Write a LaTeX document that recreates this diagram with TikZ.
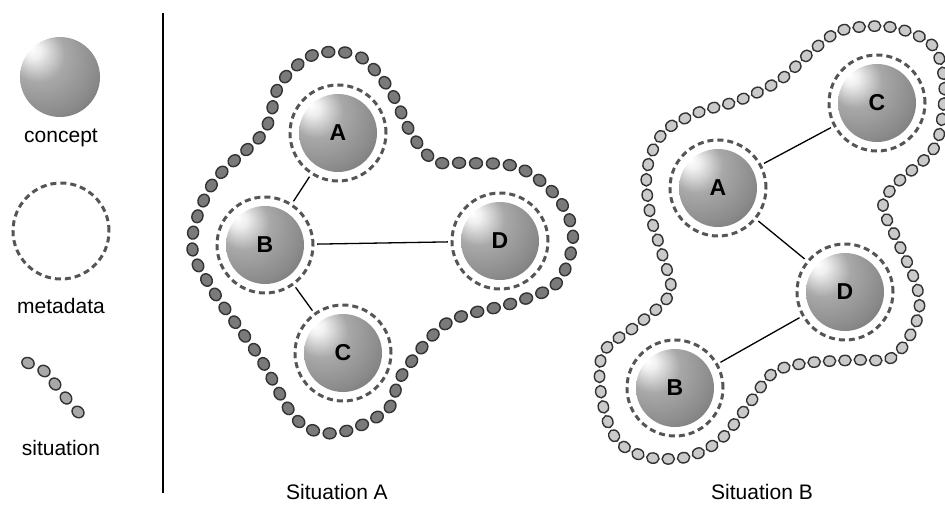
\documentclass[tikz,border=0pt]{standalone}
\usepackage{fontspec}
\setmainfont{Liberation Sans}
\usetikzlibrary{decorations.markings}

\definecolor{dashgray}{HTML}{555555}
\definecolor{dotdark}{HTML}{7A7A7A}
\definecolor{dotlight}{HTML}{CACACA}
\definecolor{dotmid}{HTML}{A8A8A8}
\definecolor{dotedge}{HTML}{333333}

% glossy sphere, lit from the upper left
\pgfdeclareradialshading{conceptball}{\pgfpoint{-18bp}{18bp}}{%
  color(0bp)=(white);
  color(5bp)=(white!94!black);
  color(17bp)=(white!66!black);
  color(34bp)=(white!54!black);
  color(50bp)=(white!38!black);
  color(62bp)=(white!22!black);
  color(75bp)=(white!15!black)}

\tikzset{
  sphere/.style={circle, minimum size=78pt, inner sep=0pt, shading=conceptball,
                 font=\fontsize{23}{26}\selectfont\bfseries},
  meta/.style={draw=dashgray, line width=3pt, dash pattern=on 6pt off 4pt},
  halo/.style={circle, minimum size=104pt, inner sep=0pt},
  link/.style={draw=black, line width=1.3pt},
  caption/.style={font=\fontsize{21}{24}\selectfont, inner sep=0pt},
  dot/.style={draw=dotedge, line width=1.4pt},
  dotchain/.style n args={3}{
    decorate, decoration={markings,
      mark=between positions 0 and 0.999 step #1 with {
        \draw[dot, fill=#2] (0,0) ellipse [x radius=#3pt, y radius=#3pt-1pt];
      }}},
}

% a concept with its metadata ring
\newcommand{\concept}[3]{%
  \node[sphere] (#1s) at (#2) {#3};
  \draw[meta] (#2) circle [radius=48pt];
  \node[halo] (#1) at (#2) {};
}

\begin{document}
\begin{tikzpicture}[x=1pt, y=-1pt]
\useasboundingbox (0,0) rectangle (945,506);

% ---------- legend ----------
\node[sphere, minimum size=80pt] (legsphere) at (60,77) {};
\node[caption] (legconcept) at (61,138) {concept};
\draw[meta] (61,231) circle [radius=48pt];
\coordinate (legmeta) at (61,231);
\node[caption] (legmetadata) at (61,306) {metadata};
\foreach \p/\a in {(28,363)/-25,(44,371)/-35,(55,384)/-50,(66,398)/-50,(78,412)/-40}
  \draw[dot, fill=dotmid, rotate around={\a:\p}] \p ellipse [x radius=6.3pt, y radius=5.4pt];
\node[caption] (legsituation) at (61,448) {situation};

% separator
\coordinate (sepTop) at (163,13);
\coordinate (sepBot) at (163,493);
\draw[line width=1.6pt] (sepTop) -- (sepBot);

% ---------- situation A ----------
\path[dotchain={1/69}{dotdark}{6.5}] plot[smooth cycle, tension=0.55] coordinates {
  (337,52) (362,58) (390,90) (412,135) (435,161) (463,163) (517,167) (557,197)
  (573,237) (557,283) (513,303) (447,323) (402,375) (387,410) (337,433)
  (297,420) (260,358) (212,289) (192,243) (213,183) (263,133) (277,90)
  (292,70) (313,55)};

\concept{aA}{338,133}{A}
\concept{aB}{265,245}{B}
\concept{aD}{500,241}{D}
\concept{aC}{343,353}{C}
\draw[link] (aA) -- (aB);
\draw[link] (aB) -- (aD);
\draw[link] (aB) -- (aC);
\node[caption] (capA) at (337,492) {Situation A};

% ---------- situation B ----------
\path[dotchain={1/86}{dotlight}{6.2}] plot[smooth cycle, tension=0.55] coordinates {
  (843,30) (890,27) (930,43) (943,73) (943,110) (933,150) (895,185) (883,207)
  (897,240) (917,287) (917,320) (893,357) (853,360) (807,363) (773,373)
  (747,407) (720,440) (687,457) (647,457) (617,440) (602,400) (603,353)
  (640,323) (670,293) (663,257) (650,213) (647,170) (663,133) (697,113)
  (740,100) (780,80) (813,50)};

\concept{bC}{877,103}{C}
\concept{bA}{718,188}{A}
\concept{bD}{845,292}{D}
\concept{bB}{675,388}{B}
\draw[link] (bA) -- (bC);
\draw[link] (bA) -- (bD);
\draw[link] (bD) -- (bB);
\node[caption] (capB) at (762,492) {Situation B};
\end{tikzpicture}
\end{document}
